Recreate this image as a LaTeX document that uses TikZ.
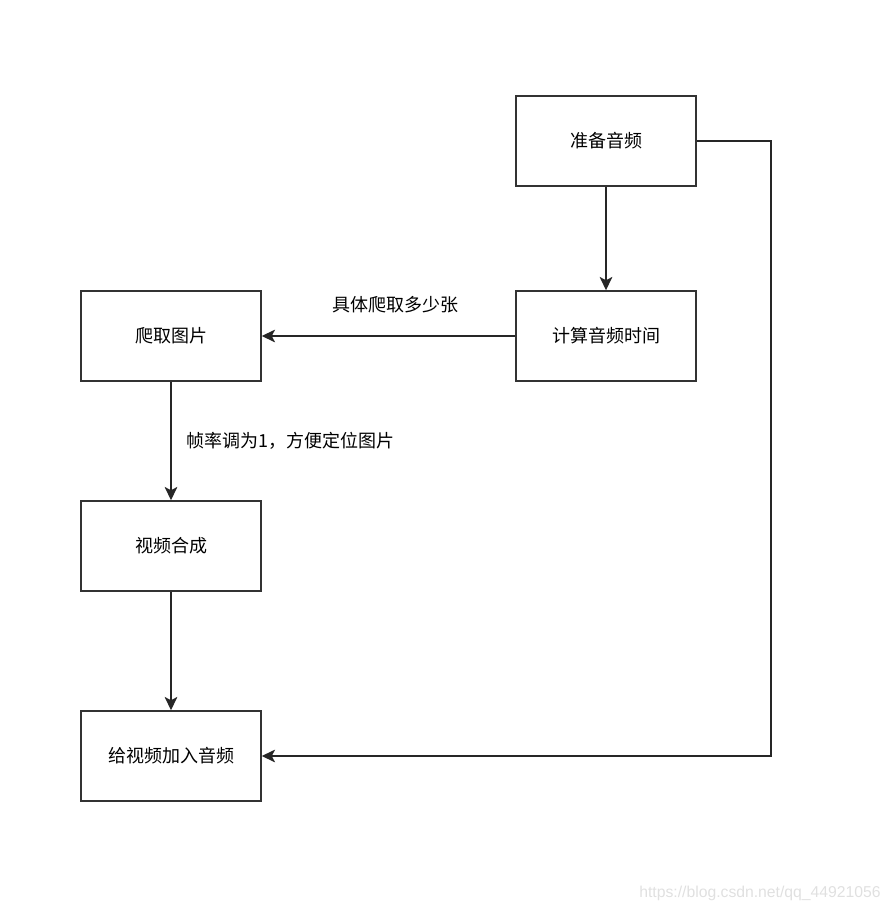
\documentclass[tikz,border=0pt]{standalone}
\usepackage{fontspec}
\setmainfont{Noto Sans CJK SC}
\newfontfamily\markfont{Liberation Sans}
\usetikzlibrary{arrows.meta}

\tikzset{
	stepbox/.style={draw=black!80, line width=1.1pt, minimum width=135pt, minimum height=67.5pt, inner sep=0pt, font=\fontsize{13.5}{16}\selectfont},
	flow/.style={draw=black!85, line width=1.1pt, -{Stealth[length=10pt, width=9.5pt, inset=2.5pt]}},
	note/.style={inner sep=0pt, font=\fontsize{13.5}{16}\selectfont}
}

\begin{document}
\begin{tikzpicture}[x=0.75pt, y=-0.75pt]
	\useasboundingbox (0,0) rectangle (891,913);
	
	% boxes
	\node[stepbox] (prep)  at (606,141) {准备音频};
	\node[stepbox] (calc)  at (606,336) {计算音频时间};
	\node[stepbox] (crawl) at (171,336) {爬取图片};
	\node[stepbox] (synth) at (171,546) {视频合成};
	\node[stepbox] (final) at (171,756) {给视频加入音频};
	\coordinate (bend) at (771,756);
	
	% connectors
	\draw[flow] (prep) -- (calc);
	\draw[flow] (calc) -- (crawl)
		node[note, midway, xshift=5.6pt, yshift=23.5pt] {具体爬取多少张};
	\draw[flow] (crawl) -- (synth)
		node[note, midway, anchor=west, xshift=11pt] {帧率调为1，方便定位图片};
	\draw[flow] (synth) -- (final);
	\draw[flow] (prep.east) -| (bend) -- (final.east);
	
	\node[inner sep=0pt, anchor=east, text=black!12, font=\markfont\fontsize{11.8}{14}\selectfont] (mark) at (881,893) {https://blog.csdn.net/qq\_44921056};
\end{tikzpicture}
\end{document}
